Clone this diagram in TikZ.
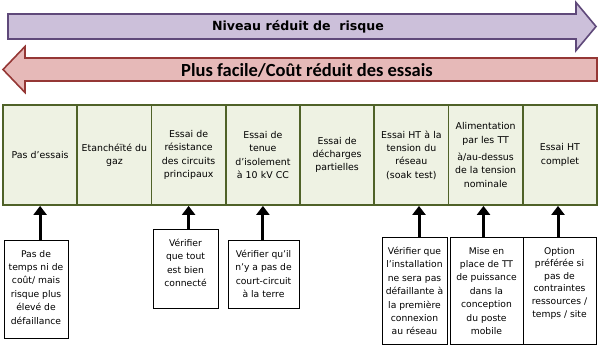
\documentclass[tikz,border=0pt]{standalone}
\usepackage{fontspec}
\setmainfont{DejaVu Sans}
\newfontfamily\carl{Carlito}
\usetikzlibrary{arrows.meta}
\definecolor{purfill}{HTML}{CCC0DA}
\definecolor{purline}{HTML}{5F497A}
\definecolor{redfill}{HTML}{E6B9B8}
\definecolor{redline}{HTML}{953735}
\definecolor{colfill}{HTML}{EEF2E3}
\definecolor{colline}{HTML}{4F6228}
\tikzset{
  col/.style={draw=colline, fill=colfill, line width=1.8pt, minimum width=74.25pt,
    minimum height=100pt, text width=73pt, align=center, inner sep=0pt,
    font=\fontsize{9.4}{13.4}\selectfont},
  note/.style={draw=black, line width=0.8pt, fill=white, inner sep=0pt, anchor=north},
  notetext/.style={align=center, inner sep=0pt, anchor=north, yshift=-10pt,
    font=\fontsize{9.2}{13.4}\selectfont},
  upar/.style={line width=3pt, -{Triangle[width=13pt,length=9pt]}},
}
\begin{document}
\begin{tikzpicture}[x=1pt,y=-1pt]
\useasboundingbox (0,0) rectangle (601,361);
% top arrows
\draw[purline, fill=purfill, line width=1.6pt] (8,14) -- (576,14) -- (576,2.5) -- (596,26.5) -- (576,50.5) -- (576,39) -- (8,39) -- cycle;
\node[font=\bfseries\fontsize{12.6}{14}\selectfont] (t1) at (298,27) {Niveau réduit de\ \ risque};
\draw[redline, fill=redfill, line width=1.6pt] (597,58) -- (25,58) -- (25,46.5) -- (3,69.5) -- (25,92.5) -- (25,81) -- (597,81) -- cycle;
\node[font=\carl\bfseries\fontsize{18.5}{20}\selectfont] (t2) at (307,70) {Plus facile/Coût réduit des essais};
% columns
\node[col] (c1) at (40.1,155) {Pas d'essais};
\node[col] (c2) at (114.4,155) {Etanchéïté du\\gaz\\[4pt]};
\node[col] (c3) at (188.6,155) {Essai de\\résistance\\des circuits\\principaux};
\node[col] (c4) at (262.9,155) {Essai de\\tenue\\d'isolement\\à 10 kV CC};
\node[col] (c5) at (337.1,155) {Essai de\\décharges\\partielles};
\node[col] (c6) at (411.4,155) {Essai HT à la\\tension du\\réseau\\(soak test)};
\node[col] (c7) at (485.6,155) {Alimentation\\par les TT\\[4pt]à/au-dessus\\de la tension\\nominale};
\node[col] (c8) at (559.9,155) {Essai HT\\complet};
% notes
\node[note, minimum width=64pt, minimum height=98pt] (b1) at (36,240) {};
\node[notetext] (b1t) at (b1.north) {Pas de\\temps ni de\\coût/ mais\\risque plus\\élevé de\\défaillance};
\node[note, minimum width=65pt, minimum height=79pt] (b2) at (185.5,229) {};
\node[notetext] (b2t) at (b2.north) {Vérifier\\que tout\\est bien\\connecté};
\node[note, minimum width=71pt, minimum height=68pt] (b3) at (263.5,240) {};
\node[notetext] (b3t) at (b3.north) {Vérifier qu'il\\n'y a pas de\\court-circuit\\à la terre};
\node[note, minimum width=65pt, minimum height=107pt] (b4) at (414.5,237) {};
\node[notetext] (b4t) at (b4.north) {Vérifier que\\l'installation\\ne sera pas\\défaillante à\\la première\\connexion\\au réseau};
\node[note, minimum width=73pt, minimum height=107pt] (b5) at (486.5,237) {};
\node[notetext] (b5t) at (b5.north) {Mise en\\place de TT\\de puissance\\dans la\\conception\\du poste\\mobile};
\node[note, minimum width=73pt, minimum height=107pt] (b6) at (559.5,237) {};
\node[notetext, font=\fontsize{9.2}{12.6}\selectfont] (b6t) at (b6.north) {Option\\préférée si\\pas de\\contraintes\\ressources /\\temps / site};
% arrows
\draw[upar] (b1.north -| c1.south) -- (c1.south);
\draw[upar] (b2.north -| c3.south) -- (c3.south);
\draw[upar] (b3.north -| c4.south) -- (c4.south);
\draw[upar] ([xshift=4.5pt]b4.north) -- ([xshift=4.5pt]b4.north |- c6.south);
\draw[upar] ([xshift=-3pt]b5.north) -- ([xshift=-3pt]b5.north |- c7.south);
\draw[upar] ([xshift=-1.5pt]b6.north) -- ([xshift=-1.5pt]b6.north |- c8.south);
\end{tikzpicture}
\end{document}
